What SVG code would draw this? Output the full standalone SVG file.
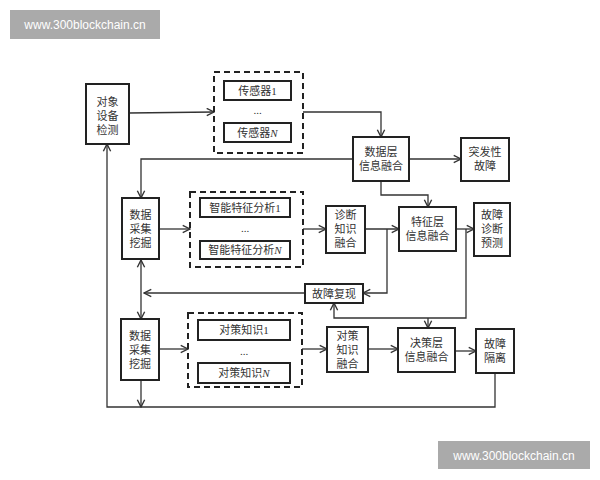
<svg xmlns="http://www.w3.org/2000/svg" width="600" height="480" viewBox="0 0 600 480">
<style>
.b{fill:#fff;stroke:#222;stroke-width:2}
.d{fill:none;stroke:#222;stroke-width:2;stroke-dasharray:6,4}
.t{font-family:"Liberation Serif","Noto Sans CJK SC",serif;font-size:11px;fill:#333;text-anchor:middle}
.c{fill:none;stroke:#333;stroke-width:1.3;marker-end:url(#a)}
.l{fill:none;stroke:#333;stroke-width:1.3}
.w{font-family:"Liberation Sans","Noto Sans CJK SC",sans-serif;font-size:12px;fill:#fff;text-anchor:middle}
</style>
<defs><marker id="a" viewBox="0 0 10 10" refX="9" refY="5" markerWidth="7" markerHeight="7" orient="auto-start-reverse"><path d="M1,1L9,5L1,9" fill="none" stroke="#333" stroke-width="1.5"/></marker></defs>
<rect width="600" height="480" fill="#fff"/>
<g id="wm1"><rect x="10" y="10" width="150" height="29" fill="#aaa"/><text class="w" x="85" y="29">www.300blockchain.cn</text></g>
<g id="wm2"><rect x="438" y="441" width="152" height="28" fill="#aaa"/><text class="w" x="514" y="460">www.300blockchain.cn</text></g>
<g id="edges">
<path class="c" d="M129,113L214,112"/>
<path class="c" d="M303,112H381V137"/>
<path class="c" d="M409,159H461"/>
<path class="c" d="M353,159H141V198"/>
<path class="c" d="M159,229H190"/>
<path class="c" d="M303,229H326"/>
<path class="c" d="M365,229H399"/>
<path class="c" d="M381,181V195H428V207"/>
<path class="c" d="M456,229H474"/>
<path class="c" d="M387,229V293H363"/>
<path class="c" d="M466,229V318H334V303"/>
<path class="c" d="M428,318V328"/>
<path class="c" d="M305,293H144"/>
<path class="c" style="marker-start:url(#a)" d="M141,260V319"/>
<path class="c" d="M159,349H188"/>
<path class="c" d="M302,349H327"/>
<path class="c" d="M368,349H398"/>
<path class="c" d="M455,351H476"/>
<path class="c" d="M495,373V407H107V144"/>
<path class="c" d="M141,380V407"/>
</g>
<g id="n1"><rect class="b" x="86" y="84" width="43" height="60"/><text class="t" x="107.5" y="106">对象</text><text class="t" x="107.5" y="120">设备</text><text class="t" x="107.5" y="134">检测</text></g>
<g id="g1"><rect class="d" x="214" y="72" width="89" height="81"/>
<rect class="b" x="224" y="81" width="67" height="19"/><text class="t" x="257.5" y="94.5">传感器1</text>
<text class="t" x="257.5" y="114">...</text>
<rect class="b" x="224" y="123" width="67" height="19"/><text class="t" x="257.5" y="136.5">传感器<tspan font-style="italic">N</tspan></text></g>
<g id="n2"><rect class="b" x="353" y="137" width="56" height="44"/><text class="t" x="381" y="156">数据层</text><text class="t" x="381" y="170">信息融合</text></g>
<g id="n3"><rect class="b" x="461" y="138" width="48" height="43"/><text class="t" x="485" y="156">突发性</text><text class="t" x="485" y="170">故障</text></g>
<g id="n4"><rect class="b" x="122" y="198" width="37" height="61"/><text class="t" x="140.5" y="219">数据</text><text class="t" x="140.5" y="233">采集</text><text class="t" x="140.5" y="247">挖掘</text></g>
<g id="g2"><rect class="d" x="190" y="192" width="113" height="75"/>
<rect class="b" x="200" y="198" width="90" height="19"/><text class="t" x="245" y="211.5">智能特征分析1</text>
<text class="t" x="245" y="232">...</text>
<rect class="b" x="200" y="241" width="90" height="18"/><text class="t" x="245" y="254">智能特征分析<tspan font-style="italic">N</tspan></text></g>
<g id="n5"><rect class="b" x="326" y="206" width="39" height="47"/><text class="t" x="345.5" y="219">诊断</text><text class="t" x="345.5" y="233">知识</text><text class="t" x="345.5" y="247">融合</text></g>
<g id="n6"><rect class="b" x="399" y="207" width="57" height="44"/><text class="t" x="427.5" y="226">特征层</text><text class="t" x="427.5" y="240">信息融合</text></g>
<g id="n7"><rect class="b" x="474" y="203" width="36" height="53"/><text class="t" x="492" y="219">故障</text><text class="t" x="492" y="233">诊断</text><text class="t" x="492" y="247">预测</text></g>
<g id="n8"><rect class="b" x="305" y="284" width="58" height="19"/><text class="t" x="334" y="297.5">故障复现</text></g>
<g id="n9"><rect class="b" x="121" y="319" width="38" height="61"/><text class="t" x="140" y="340">数据</text><text class="t" x="140" y="354">采集</text><text class="t" x="140" y="368">挖掘</text></g>
<g id="g3"><rect class="d" x="188" y="313" width="114" height="74"/>
<rect class="b" x="198" y="320" width="92" height="20"/><text class="t" x="244" y="334">对策知识1</text>
<text class="t" x="244" y="355">...</text>
<rect class="b" x="198" y="363" width="92" height="20"/><text class="t" x="244" y="377">对策知识<tspan font-style="italic">N</tspan></text></g>
<g id="n10"><rect class="b" x="327" y="327" width="41" height="45"/><text class="t" x="347.5" y="340">对策</text><text class="t" x="347.5" y="354">知识</text><text class="t" x="347.5" y="368">融合</text></g>
<g id="n11"><rect class="b" x="398" y="328" width="57" height="44"/><text class="t" x="426.5" y="347">决策层</text><text class="t" x="426.5" y="361">信息融合</text></g>
<g id="n12"><rect class="b" x="476" y="329" width="38" height="44"/><text class="t" x="495" y="348">故障</text><text class="t" x="495" y="362">隔离</text></g>
</svg>
